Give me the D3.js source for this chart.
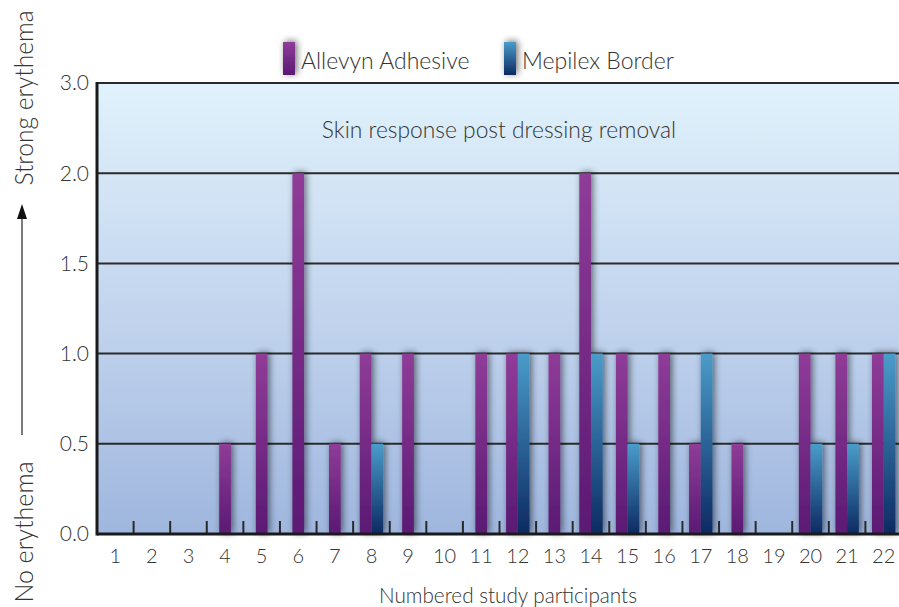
<!DOCTYPE html>
<html>
<head>
<meta charset="utf-8">
<script src="https://cdn.jsdelivr.net/npm/d3@7"></script>
<style>
  html, body { margin: 0; padding: 0; background: #ffffff; }
  svg { display: block; }
  text { font-family: Lato, "Open Sans", sans-serif; font-weight: 300; fill: #333; }
</style>
</head>
<body>
<svg id="chart" width="899" height="607"></svg>
<script>
const participants = ["1","2","3","4","5","6","7","8","9","10","11","12","13","14","15","16","17","18","19","20","21","22"];
const seriesNames = ["Allevyn Adhesive", "Mepilex Border"];
const allevyn = [0,0,0,0.5,1,2,0.5,1,1,0,1,1,1,2,1,1,0.5,0.5,0,1,1,1];
const mepilex = [0,0,0,0,0,0,0,0.5,0,0,0,1,0,1,0.5,0,1,0,0,0.5,0.5,1];
const yTicks = [0, 0.5, 1.0, 1.5, 2.0, 3.0];
const yTickLabels = ["0.0","0.5","1.0","1.5","2.0","3.0"];
const chartTitle = "Skin response post dressing removal";
const xTitle = "Numbered study participants";

(function () {
const svg = d3.select("#chart");
const pL = 97, pR = 902, pT = 83, pB = 534;

const x = d3.scaleBand().domain(participants).range([pL, pR]).padding(0);
const y = d3.scaleLinear().domain(yTicks)
  .range(yTicks.map((d, i) => pB - i * (pB - pT) / (yTicks.length - 1)));
const barW = 11.7;
const sub = d3.scaleBand().domain(seriesNames).range([-barW, barW]);

const defs = svg.append("defs");
const bg = defs.append("linearGradient").attr("id", "bg").attr("x1", 0).attr("x2", 0).attr("y1", 0).attr("y2", 1);
bg.append("stop").attr("offset", "0%").attr("stop-color", "#e0f2fb");
bg.append("stop").attr("offset", "50%").attr("stop-color", "#c3d5ee");
bg.append("stop").attr("offset", "100%").attr("stop-color", "#9fb6de");

const gP = defs.append("linearGradient").attr("id", "gP").attr("x1", 0).attr("x2", 0).attr("y1", 0).attr("y2", 1);
gP.append("stop").attr("offset", "0%").attr("stop-color", "#8f3c98");
gP.append("stop").attr("offset", "100%").attr("stop-color", "#5a1a73");
const gB = defs.append("linearGradient").attr("id", "gB").attr("x1", 0).attr("x2", 0).attr("y1", 0).attr("y2", 1);
gB.append("stop").attr("offset", "0%").attr("stop-color", "#4a9cca");
gB.append("stop").attr("offset", "100%").attr("stop-color", "#0d2a62");

const sh = defs.append("filter").attr("id", "shadow").attr("x", "-100%").attr("y", "-20%").attr("width", "300%").attr("height", "140%");
sh.append("feGaussianBlur").attr("in", "SourceAlpha").attr("stdDeviation", 3.5).attr("result", "b");
sh.append("feOffset").attr("in", "b").attr("dx", 2).attr("dy", -1).attr("result", "o");
sh.append("feComponentTransfer").attr("in", "o").attr("result", "oa")
  .append("feFuncA").attr("type", "linear").attr("slope", 0.55);
const mg = sh.append("feMerge");
mg.append("feMergeNode").attr("in", "oa");
mg.append("feMergeNode").attr("in", "SourceGraphic");

// background
svg.append("rect").attr("x", pL).attr("y", pT).attr("width", pR - pL).attr("height", pB - pT).attr("fill", "url(#bg)");

// gridlines
svg.append("g").selectAll("line").data(yTicks.slice(1)).join("line")
  .attr("x1", pL).attr("x2", pR)
  .attr("y1", d => y(d)).attr("y2", d => y(d))
  .attr("stroke", "#2a2a2a").attr("stroke-width", 2);

// x ticks (inner, between categories)
svg.append("g").selectAll("line").data(participants.slice(1)).join("line")
  .attr("x1", d => x(d)).attr("x2", d => x(d))
  .attr("y1", pB - 13).attr("y2", pB)
  .attr("stroke", "#2a2a2a").attr("stroke-width", 2);

// bars
const rows = participants.map((p, i) => ({ p, a: allevyn[i], m: mepilex[i] }));
const bars = [];
rows.forEach(r => {
  const both = r.a > 0 && r.m > 0;
  const c = x(r.p) + x.bandwidth() / 2;
  if (r.a > 0) bars.push({ v: r.a, fill: "url(#gP)", x0: both ? c + sub(seriesNames[0]) : c - barW / 2 });
  if (r.m > 0) bars.push({ v: r.m, fill: "url(#gB)", x0: both ? c + sub(seriesNames[1]) : c - barW / 2 });
});
svg.append("g").attr("filter", "url(#shadow)").selectAll("rect").data(bars).join("rect")
  .attr("x", d => d.x0).attr("width", barW)
  .attr("y", d => y(d.v)).attr("height", d => y(0) - y(d.v))
  .attr("fill", d => d.fill);

// axes lines
svg.append("line").attr("x1", pL).attr("x2", pR).attr("y1", pB).attr("y2", pB)
  .attr("stroke", "#1a1a1a").attr("stroke-width", 3);
svg.append("line").attr("x1", pL).attr("x2", pL).attr("y1", pT - 1).attr("y2", pB + 1.5)
  .attr("stroke", "#1a1a1a").attr("stroke-width", 3);

// y tick labels
svg.append("g").selectAll("text").data(yTicks).join("text")
  .attr("x", 89).attr("y", d => y(d)).attr("dy", "0.35em")
  .attr("text-anchor", "end").attr("font-size", 21)
  .text((d, i) => yTickLabels[i]);

// x tick labels
svg.append("g").selectAll("text").data(participants).join("text")
  .attr("x", d => x(d) + x.bandwidth() / 2).attr("y", 563)
  .attr("text-anchor", "middle").attr("font-size", 20)
  .text(d => d);

// title
svg.append("text").attr("x", 499).attr("y", 138).attr("text-anchor", "middle").attr("font-size", 22.8).text(chartTitle);
svg.append("text").attr("x", 508).attr("y", 603).attr("text-anchor", "middle").attr("font-size", 20.7).text(xTitle);

// legend
const legend = [
  { name: seriesNames[0], fill: "url(#gP)", x: 283 },
  { name: seriesNames[1], fill: "url(#gB)", x: 504 }
];
const lg = svg.append("g");
lg.append("g").attr("filter", "url(#shadow)").selectAll("rect").data(legend).join("rect")
  .attr("x", d => d.x).attr("y", 42).attr("width", 12).attr("height", 33).attr("fill", d => d.fill);
lg.selectAll("text").data(legend).join("text")
  .attr("x", d => d.x + 18).attr("y", 69).attr("font-size", 23).text(d => d.name);

// y-axis side labels
svg.append("text").attr("transform", "translate(33,98) rotate(-90)")
  .attr("text-anchor", "middle").attr("font-size", 24.5).text("Strong erythema");
svg.append("text").attr("transform", "translate(33,532) rotate(-90)")
  .attr("text-anchor", "middle").attr("font-size", 25).text("No erythema");
svg.append("line").attr("x1", 22).attr("x2", 22).attr("y1", 435).attr("y2", 214)
  .attr("stroke", "#222").attr("stroke-width", 1.2);
svg.append("path").attr("d", d3.line()([[17, 219], [22, 204], [27, 219]]) + "Z").attr("fill", "#111");
})();
</script>
</body>
</html>
